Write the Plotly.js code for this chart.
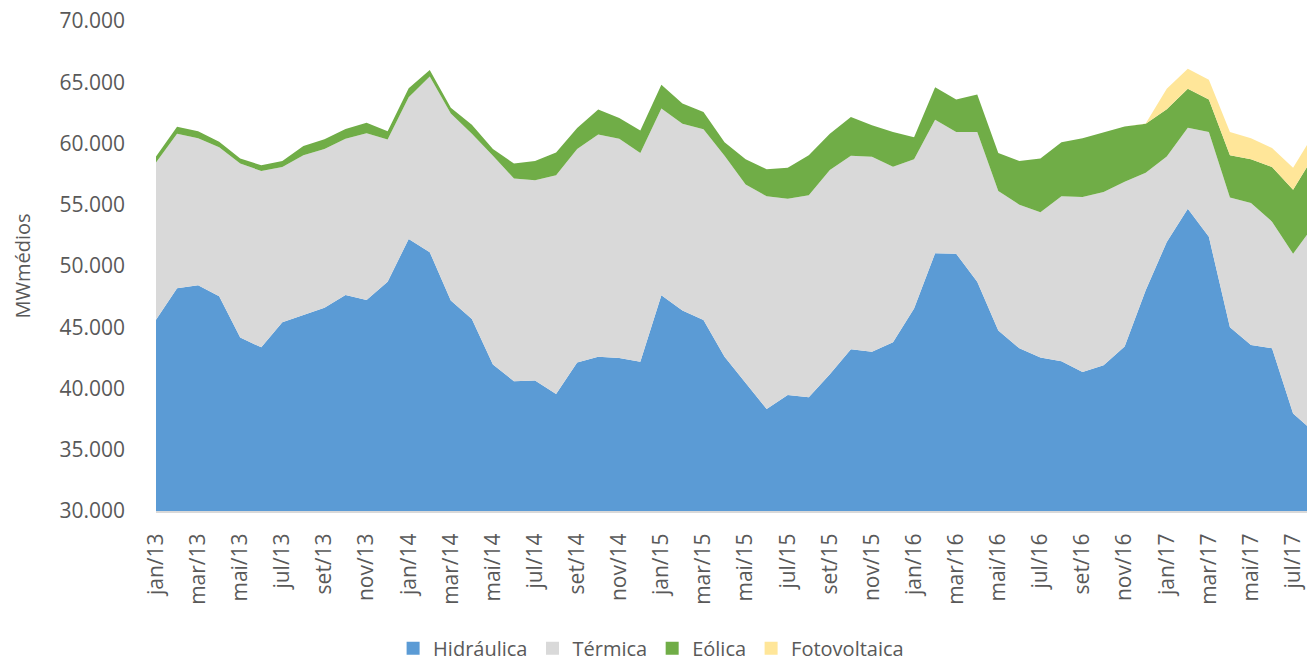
<!DOCTYPE html>
<html>
<head>
<meta charset="utf-8">
<script src="https://cdn.plot.ly/plotly-3.0.1.min.js"></script>
<style>
html,body{margin:0;padding:0;background:#fff;}
#chart{width:1307px;height:661px;}
</style>
</head>
<body>
<div id="chart"></div>
<script>
const months = ['jan/13','fev/13','mar/13','abr/13','mai/13','jun/13','jul/13','ago/13','set/13','out/13','nov/13','dez/13',
'jan/14','fev/14','mar/14','abr/14','mai/14','jun/14','jul/14','ago/14','set/14','out/14','nov/14','dez/14',
'jan/15','fev/15','mar/15','abr/15','mai/15','jun/15','jul/15','ago/15','set/15','out/15','nov/15','dez/15',
'jan/16','fev/16','mar/16','abr/16','mai/16','jun/16','jul/16','ago/16','set/16','out/16','nov/16','dez/16',
'jan/17','fev/17','mar/17','abr/17','mai/17','jun/17','jul/17','ago/17'];

const hidraulica = [45620,48190,48430,47530,44160,43360,45400,45980,46590,47630,47220,48710,
52210,51130,47190,45680,41960,40600,40660,39560,42120,42590,42500,42180,
47610,46360,45600,42590,40500,38320,39470,39280,41160,43200,43000,43780,
46530,51050,51000,48710,44730,43280,42540,42230,41350,41900,43420,48020,
51960,54670,52380,44990,43560,43280,37950,36450];

const termica = [12820,12600,12000,12160,14200,14400,12680,13070,12960,12750,13620,11610,
11560,14340,15250,15110,17040,16550,16350,17840,17430,18140,17880,17040,
15240,15250,15570,16410,16160,17370,16030,16490,16680,15800,15920,14330,
12190,10890,9930,12220,11400,11720,11850,13460,14280,14150,13460,9600,
6980,6620,8550,10610,11580,10340,13050,16910];

const eolica = [500,580,580,460,420,460,500,750,800,800,850,690,
740,530,470,740,550,1210,1570,1870,1710,2040,1700,1840,
1940,1660,1410,1100,2060,2200,2530,3280,2950,3170,2560,2830,
1790,2650,2670,3080,3090,3580,4390,4410,4800,4880,4510,3990,
3860,3170,2660,3450,3580,4460,5220,5690];

const fotovoltaica = [0,0,0,0,0,0,0,0,0,0,0,0,
0,0,0,0,0,0,0,0,0,0,0,0,
0,0,0,0,0,0,0,0,0,0,0,0,
0,0,0,0,0,0,0,0,0,0,0,30,
1660,1650,1610,1880,1710,1550,1810,1780];

const seriesNames = ['Hidráulica','Térmica','Eólica','Fotovoltaica'];
const seriesColors = ['#5B9BD5','#D9D9D9','#70AD47','#FFE699'];
const seriesData = [hidraulica, termica, eolica, fotovoltaica];

const tickLabels = months.filter((m,i)=>i%2===0);
const yTicks = [30000,35000,40000,45000,50000,55000,60000,65000,70000];

const traces = [];
seriesData.forEach((vals,k)=>{
  traces.push({
    type:'scatter', mode:'lines', x:months, y:vals, name:seriesNames[k],
    stackgroup:'one', line:{width:0, color:seriesColors[k]}, fillcolor:seriesColors[k],
    showlegend:false, legendgroup:seriesNames[k], hoverinfo:'x+y+name'
  });
});
seriesData.forEach((vals,k)=>{
  traces.push({
    type:'scatter', mode:'markers', x:[null], y:[null], name:seriesNames[k],
    marker:{symbol:'square', size:13, color:seriesColors[k]},
    showlegend:true, legendgroup:seriesNames[k], hoverinfo:'skip'
  });
});

const font = "'Open Sans', 'Noto Sans', sans-serif";
const layout = {
  width:1307, height:661,
  margin:{l:156, r:0, t:20.5, b:150, pad:0, autoexpand:false},
  paper_bgcolor:'#ffffff', plot_bgcolor:'rgba(0,0,0,0)',
  separators:',.',
  font:{family:font, color:'#595959', size:20},
  xaxis:{
    type:'category', range:[0, 54.66], showgrid:false, zeroline:false, automargin:false,
    showline:true, linecolor:'#D9D9D9', linewidth:2,
    tickmode:'array', tickvals:tickLabels, ticktext:tickLabels,
    tickangle:-90, ticks:'', ticklabelstandoff:12,
    tickfont:{family:font, size:21, color:'#595959'}
  },
  yaxis:{
    range:[30000,70000], tickmode:'array', tickvals:yTicks, automargin:false,
    tickformat:',.0f', showgrid:false, zeroline:false, showline:false,
    ticks:'', ticklabelstandoff:30,
    tickfont:{family:font, size:21, color:'#595959'},
    title:{text:'MWmédios', font:{family:font, size:20, color:'#595959'}, standoff:23}
  },
  legend:{
    orientation:'h', x:0.206, xanchor:'left', y:-0.28, yanchor:'middle',
    font:{family:font, size:20, color:'#595959'}, bgcolor:'rgba(0,0,0,0)',
    itemwidth:30, tracegroupgap:0
  },
  showlegend:true
};

Plotly.newPlot('chart', traces, layout, {displayModeBar:false, staticPlot:true});
</script>
</body>
</html>
